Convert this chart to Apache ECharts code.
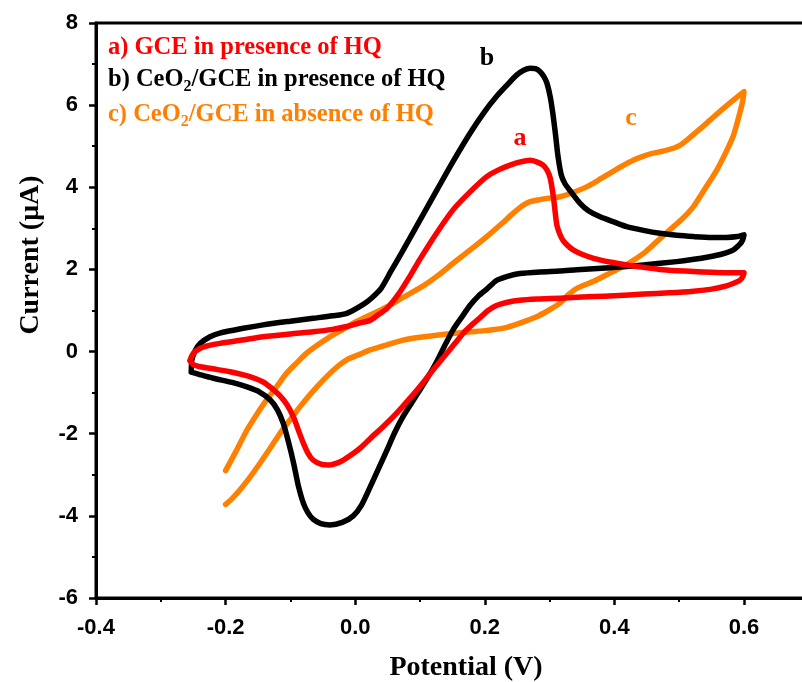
<!DOCTYPE html>
<html><head><meta charset="utf-8">
<script src="https://cdn.jsdelivr.net/npm/echarts@6/dist/echarts.min.js"></script>
<style>html,body{margin:0;padding:0;background:#fff}#c{width:802px;height:682px}</style>
</head><body><div id="c"></div>
<script>
// a) GCE in presence of HQ (red)
const aPotential = [-0.255,-0.25,-0.239,-0.225,-0.209,-0.175,-0.142,-0.1,-0.065,-0.035,-0.013,0.005,0.023,0.036,0.049,0.069,0.085,0.1,0.125,0.151,0.178,0.203,0.222,0.239,0.255,0.27,0.28,0.29,0.296,0.301,0.306,0.311,0.316,0.321,0.328,0.337,0.35,0.368,0.393,0.419,0.445,0.47,0.496,0.522,0.55,0.573,0.6,
  0.598,0.594,0.585,0.573,0.55,0.522,0.485,0.445,0.4,0.368,0.316,0.285,0.254,0.235,0.218,0.205,0.193,0.18,0.167,0.154,0.141,0.12,0.1,0.082,0.064,0.043,0.023,0.01,-0.003,-0.02,-0.039,-0.053,-0.065,-0.073,-0.08,-0.088,-0.095,-0.105,-0.116,-0.13,-0.142,-0.165,-0.193,-0.22,-0.239,-0.25,-0.255];
const aCurrent = [-0.22,-0.05,0.08,0.15,0.2,0.28,0.36,0.43,0.48,0.54,0.61,0.69,0.76,0.9,1.05,1.45,1.85,2.25,2.87,3.45,3.9,4.26,4.43,4.54,4.62,4.66,4.62,4.54,4.42,4.22,3.75,3.1,2.85,2.7,2.58,2.47,2.37,2.27,2.18,2.11,2.05,2.0,1.97,1.95,1.93,1.92,1.92,
  1.82,1.74,1.67,1.6,1.52,1.47,1.43,1.4,1.36,1.34,1.3,1.28,1.25,1.2,1.12,1.0,0.83,0.65,0.45,0.2,-0.05,-0.45,-0.85,-1.18,-1.5,-1.83,-2.12,-2.32,-2.48,-2.66,-2.76,-2.74,-2.64,-2.47,-2.23,-1.9,-1.6,-1.3,-1.08,-0.88,-0.74,-0.6,-0.49,-0.42,-0.37,-0.32,-0.22];

// b) CeO2/GCE in presence of HQ (black)
const bPotential = [-0.253,-0.252,-0.247,-0.239,-0.224,-0.209,-0.175,-0.142,-0.1,-0.065,-0.035,-0.013,0.0125,0.025,0.04,0.055,0.074,0.1,0.126,0.15,0.177,0.2,0.218,0.235,0.249,0.26,0.27,0.278,0.285,0.291,0.296,0.301,0.305,0.309,0.313,0.318,0.324,0.331,0.347,0.36,0.378,0.4,0.419,0.445,0.47,0.496,0.522,0.55,0.573,0.59,0.6,
  0.598,0.594,0.583,0.565,0.547,0.52,0.496,0.445,0.393,0.342,0.316,0.285,0.254,0.235,0.218,0.203,0.19,0.177,0.165,0.151,0.14,0.126,0.113,0.1,0.087,0.074,0.061,0.049,0.036,0.023,0.01,-0.003,-0.02,-0.039,-0.053,-0.065,-0.073,-0.08,-0.088,-0.095,-0.103,-0.111,-0.12,-0.131,-0.148,-0.167,-0.19,-0.219,-0.24,-0.253];
const bCurrent = [-0.49,-0.2,0.02,0.2,0.36,0.45,0.56,0.65,0.74,0.81,0.87,0.93,1.15,1.3,1.54,1.95,2.47,3.2,3.93,4.6,5.31,5.85,6.21,6.5,6.73,6.85,6.9,6.89,6.82,6.7,6.53,6.2,5.8,5.3,4.75,4.3,4.08,3.93,3.61,3.43,3.28,3.15,3.04,2.95,2.88,2.83,2.8,2.78,2.78,2.8,2.84,
  2.72,2.62,2.47,2.37,2.31,2.24,2.19,2.11,2.04,1.99,1.96,1.94,1.9,1.83,1.73,1.52,1.35,1.12,0.85,0.53,0.2,-0.24,-0.6,-0.93,-1.25,-1.58,-1.97,-2.4,-2.85,-3.3,-3.73,-4.0,-4.16,-4.22,-4.19,-4.08,-3.92,-3.69,-3.25,-2.72,-2.2,-1.75,-1.42,-1.18,-0.98,-0.86,-0.75,-0.65,-0.56,-0.5];

// c) CeO2/GCE in absence of HQ (orange)
const cPotential = [-0.2,-0.183,-0.167,-0.152,-0.137,-0.12,-0.106,-0.09,-0.075,-0.057,-0.039,-0.02,-0.003,0.023,0.05,0.074,0.105,0.13,0.151,0.178,0.203,0.225,0.244,0.258,0.27,0.285,0.296,0.316,0.337,0.357,0.375,0.393,0.41,0.429,0.445,0.46,0.475,0.491,0.502,0.512,0.53,0.548,0.566,0.584,0.6,
  0.598,0.596,0.59,0.583,0.572,0.558,0.54,0.522,0.504,0.486,0.465,0.445,0.42,0.393,0.368,0.342,0.33,0.316,0.298,0.28,0.255,0.229,0.2,0.177,0.15,0.126,0.1,0.074,0.05,0.023,0.005,-0.013,-0.03,-0.049,-0.067,-0.085,-0.1,-0.116,-0.131,-0.147,-0.162,-0.178,-0.19,-0.2];
const cCurrent = [-2.9,-2.4,-1.91,-1.53,-1.18,-0.83,-0.53,-0.27,-0.04,0.17,0.36,0.53,0.69,0.89,1.1,1.32,1.6,1.88,2.15,2.48,2.8,3.1,3.37,3.55,3.65,3.7,3.73,3.77,3.88,4.01,4.17,4.34,4.5,4.66,4.76,4.83,4.88,4.95,5.03,5.15,5.39,5.64,5.89,6.13,6.33,
  6.1,5.96,5.6,5.23,4.85,4.42,3.97,3.53,3.22,2.97,2.67,2.39,2.13,1.91,1.71,1.54,1.4,1.18,1.0,0.85,0.7,0.57,0.51,0.48,0.44,0.4,0.35,0.28,0.17,0.04,-0.08,-0.2,-0.4,-0.69,-1.0,-1.34,-1.65,-1.99,-2.35,-2.72,-3.05,-3.37,-3.58,-3.72];

const legendLines = [
  {parts: ['a) GCE in presence of HQ'], color: '#FF0000'},
  {parts: ['b) CeO', '2', '/GCE in presence of HQ'], color: '#000000'},
  {parts: ['c) CeO', '2', '/GCE in absence of HQ'], color: '#FF8000'}
];
const curveTags = ['a', 'b', 'c'];
const xTitle = 'Potential (V)';
const yTitle = 'Current (\u03BCA)';

function pairs(xs, ys) { return xs.map((x, i) => [x, ys[i]]); }

const chart = echarts.init(document.getElementById('c'), null, {renderer: 'canvas'});
const serif = '"Liberation Serif", "Times New Roman", serif';
const sans = '"Liberation Sans", Arial, sans-serif';

function legendText(line) {
  if (line.parts.length === 1) return '{t|' + line.parts[0] + '}';
  return '{t|' + line.parts[0] + '}{s|' + line.parts[1] + '}{t|' + line.parts[2] + '}';
}
function legendRich(color) {
  return {
    t: {fontFamily: serif, fontWeight: 'bold', fontSize: 24.5, fill: color},
    s: {fontFamily: serif, fontWeight: 'bold', fontSize: 16, fill: color, padding: [14, 0, 0, 0]}
  };
}
const legendY = [48, 80, 115];
const tagPos = [[520, 138, '#FF0000'], [487, 58, '#000000'], [631, 118, '#FF8000']];

const graphics = [];
legendLines.forEach((ln, i) => {
  graphics.push({type: 'text', x: 108, y: legendY[i], z: 100,
    style: {text: legendText(ln), rich: legendRich(ln.color), align: 'left', verticalAlign: 'middle'}});
});
curveTags.forEach((t, i) => {
  graphics.push({type: 'text', x: tagPos[i][0], y: tagPos[i][1], z: 100,
    style: {text: t, fontFamily: serif, fontWeight: 'bold', fontSize: 26, fill: tagPos[i][2], align: 'center', verticalAlign: 'middle'}});
});
graphics.push({type: 'text', x: 466, y: 668, z: 100,
  style: {text: xTitle, fontFamily: serif, fontWeight: 'bold', fontSize: 28, fill: '#000', align: 'center', verticalAlign: 'middle'}});
graphics.push({type: 'text', x: 31, y: 255, rotation: Math.PI / 2, z: 100,
  style: {text: yTitle, fontFamily: serif, fontWeight: 'bold', fontSize: 28, fill: '#000', align: 'center', verticalAlign: 'middle'}});

function fmt1(v) { return (Math.abs(v) < 1e-9 ? 0 : v).toFixed(1); }
function fmt0(v) { return String(Math.round(v)); }

const axisCommon = {
  type: 'value',
  axisLine: {show: true, onZero: false, lineStyle: {color: '#000', width: 3}},
  axisTick: {show: true, inside: false, length: 7, lineStyle: {color: '#000', width: 2.5}},
  minorTick: {show: true, splitNumber: 2, length: 4, lineStyle: {color: '#000', width: 2}},
  splitLine: {show: false},
  minorSplitLine: {show: false}
};

function lineSeries(name, xs, ys, color) {
  return {
    name: name, type: 'line', data: pairs(xs, ys), showSymbol: false, smooth: 0.25,
    lineStyle: {color: color, width: 5.5, cap: 'round', join: 'round'},
    itemStyle: {color: color}, clip: true
  };
}

chart.setOption({
  animation: false,
  backgroundColor: '#fff',
  grid: {left: 96, top: 23, width: 777.6, height: 575, show: true, borderColor: '#000', borderWidth: 3,
    backgroundColor: 'transparent', containLabel: false, outerBoundsMode: 'none'},
  xAxis: Object.assign({}, axisCommon, {
    min: -0.4, max: 0.8, interval: 0.2,
    axisLabel: {formatter: fmt1, fontFamily: sans, fontWeight: 'bold', fontSize: 22, color: '#000', margin: 19, showMaxLabel: false}
  }),
  yAxis: Object.assign({}, axisCommon, {
    min: -6, max: 8, interval: 2,
    axisLabel: {formatter: fmt0, fontFamily: sans, fontWeight: 'bold', fontSize: 22, color: '#000', margin: 18}
  }),
  series: [
    lineSeries('c', cPotential, cCurrent, '#FF8000'),
    lineSeries('b', bPotential, bCurrent, '#000000'),
    lineSeries('a', aPotential, aCurrent, '#FF0000')
  ],
  graphic: graphics
});
</script>
</body></html>
